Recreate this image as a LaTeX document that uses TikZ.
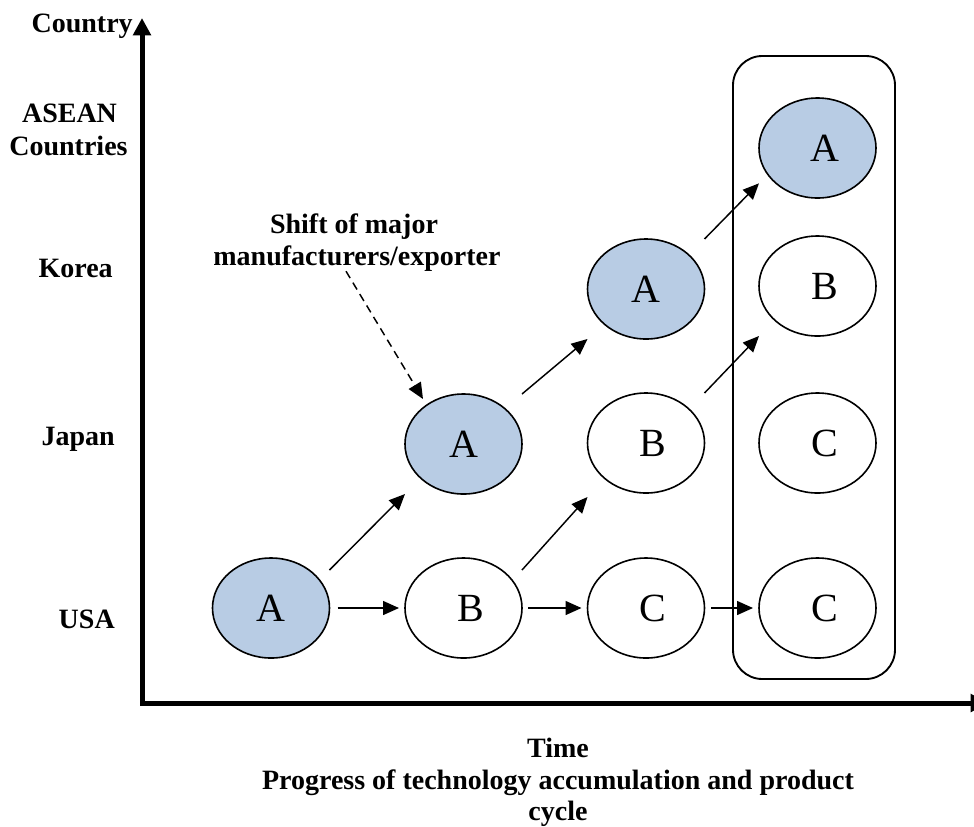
\documentclass[tikz,border=0pt]{standalone}
\usepackage{fontspec}
\setmainfont{Liberation Serif}
\usetikzlibrary{arrows.meta,shapes.geometric,calc}
\definecolor{ablue}{RGB}{184,204,228}
\begin{document}
\begin{tikzpicture}[x=0.75pt,y=-0.75pt,
  lab/.style={font=\fontsize{21}{25}\selectfont\bfseries, inner sep=0pt},
  oval/.style={ellipse, draw, fill=white, line width=1.2pt, minimum width=87.75pt, minimum height=75pt, inner sep=0pt, outer sep=0pt, font=\fontsize{30}{36}\selectfont},
  filled/.style={oval, fill=ablue},
  arr/.style={-{Triangle[length=12pt,width=10.5pt]}, line width=1.1pt},
  axisline/.style={line width=3.75pt, line join=miter, {Triangle[length=13pt,width=13pt]}-{Triangle[length=13pt,width=13pt]}},
  grpbox/.style={draw, line width=1.4pt, rounded corners=22pt, minimum width=121.5pt, minimum height=467.25pt, inner sep=0pt}]
\useasboundingbox (0,0) rectangle (974,826);

% axes
\coordinate (ytop) at (142,18);
\coordinate (orig) at (142,703);
\coordinate (xend) at (988,703);
\draw[axisline] (ytop) -- (orig) -- (xend);

% group box
\node[grpbox] (grp) at (814,367.5) {};

% ovals
\node[filled] (a1) at (271,608) {A};
\node[oval] (b1) at (463.5,608) {\hspace{0.35em}B};
\node[oval] (c1) at (646,608) {\hspace{0.35em}C};
\node[oval] (c2) at (817.5,608) {\hspace{0.35em}C};
\node[filled] (a2) at (463.5,444) {A};
\node[oval] (b2) at (646,443) {\hspace{0.35em}B};
\node[oval] (c3) at (817.5,443) {\hspace{0.35em}C};
\node[filled] (a3) at (646,289) {A};
\node[oval] (b3) at (817.5,286) {\hspace{0.35em}B};
\node[filled] (a4) at (817.5,148) {\hspace{0.35em}A};

% axis labels
\node[lab, anchor=base east] (country) at (133,32) {Country};
\node[lab, anchor=base] (asean1) at (69.5,122) {ASEAN};
\node[lab, anchor=base] (asean2) at (68.5,155) {Countries};
\node[lab, anchor=base east] (korea) at (113,277) {Korea};
\node[lab, anchor=base east] (japan) at (115,445) {Japan};
\node[lab, anchor=base east] (usa) at (115,628) {USA};

\node[lab, anchor=base] (shift1) at (354,233) {Shift of major};
\node[lab, anchor=base] (shift2) at (357,265) {manufacturers/exporter};

\node[lab, anchor=base] (time1) at (558,757) {Time};
\node[lab, anchor=base] (time2) at (558,789) {Progress of technology accumulation and product};
\node[lab, anchor=base] (time3) at (558,820) {cycle};

% horizontal arrows
\draw[arr, shorten <=6pt, shorten >=4.5pt] (a1.east) -- (b1.west);
\draw[arr, shorten <=4.5pt, shorten >=4.5pt] (b1.east) -- (c1.west);
\draw[arr, shorten <=5pt, shorten >=4.5pt] (c1.east) -- (c2.west);

% diagonal arrows
\draw[arr] ([yshift=-9pt]a1.east |- a1.north) -- (a2.west |- a2.south);
\draw[arr] ([yshift=-9pt]b1.east |- b1.north) -- ([yshift=-3pt]b2.west |- b2.south);
\draw[arr] (a2.east |- a2.north) -- (a3.west |- a3.south);
\draw[arr] (b2.east |- b2.north) -- (b3.west |- b3.south);
\draw[arr] (a3.east |- a3.north) -- ([yshift=11pt]a4.west |- a4.south);

% dashed arrow
\coordinate (dtip) at (423,399);
\draw[arr, dash pattern=on 6pt off 4pt] ($(shift2.south)+(-11,0)$) -- (dtip);
\end{tikzpicture}
\end{document}
